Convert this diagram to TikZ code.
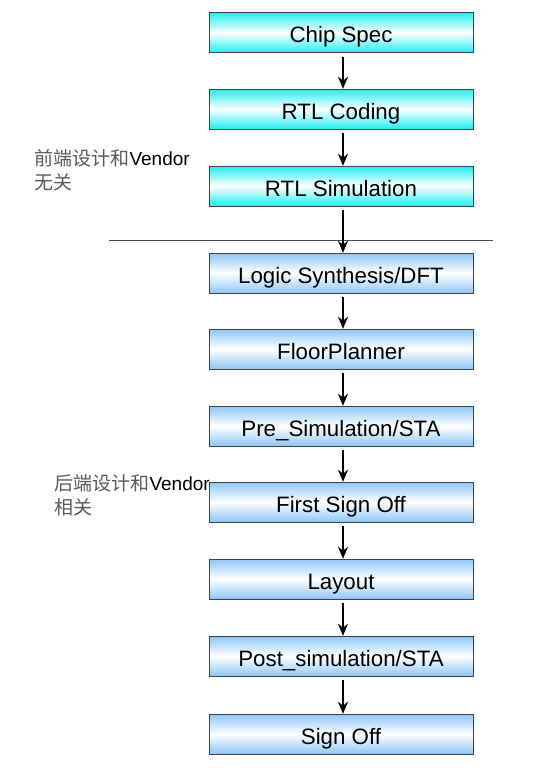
\documentclass[tikz,border=0pt]{standalone}
\usepackage{fontspec}
\usetikzlibrary{arrows.meta}
\setmainfont{Liberation Sans}
\newfontfamily\cjk{Noto Sans CJK SC}
\definecolor{frontcyan}{HTML}{22EEF0}
\definecolor{backblue}{HTML}{8EC6F6}
\tikzset{
  stage/.style={draw=black!75, minimum width=264pt, minimum height=40pt,
    inner sep=0pt, text height=21pt, text depth=0pt, font=\fontsize{22.3}{27}\selectfont},
  frontstage/.style={stage, top color=frontcyan, bottom color=frontcyan, middle color=white},
  backstage/.style={stage, top color=backblue, bottom color=backblue, middle color=white},
  note/.style={align=left, anchor=north west, font=\fontsize{19}{24}\selectfont},
  flow/.style={-{Stealth[length=12pt, width=10pt]}, line width=2.6pt, shorten <=4pt},
}
\newcommand{\zh}[1]{{\cjk\color{black!65}#1}}
\begin{document}
\begin{tikzpicture}[x=1pt, y=-1pt]
    \useasboundingbox (0,0) rectangle (546,768);

    % front end
    \node[frontstage] (spec)   at (341,32.5) {Chip Spec};
    \node[frontstage] (coding) at (341,109)  {RTL Coding};
    \node[frontstage] (rtlsim) at (341,186)  {RTL Simulation};

    \draw[black!70] (109,240) -- (493,240);

    % back end
    \node[backstage] (synth)    at (341,273) {Logic Synthesis/DFT};
    \node[backstage] (floor)    at (341,349) {FloorPlanner};
    \node[backstage] (presim)   at (341,426) {Pre\_Simulation/STA};
    \node[backstage] (firstoff) at (341,502) {First Sign Off};
    \node[backstage] (layout)   at (341,579) {Layout};
    \node[backstage] (postsim)  at (341,656) {Post\_simulation/STA};
    \node[backstage] (signoff)  at (341,734) {Sign Off};

    \foreach \a/\b in {spec/coding, coding/rtlsim, rtlsim/synth, synth/floor,
        floor/presim, presim/firstoff, firstoff/layout, layout/postsim, postsim/signoff}
        \draw[flow] ([xshift=2pt]\a.south) -- ([xshift=2pt]\b.north);

    \node[note] (frontnote) at (31,146) {\zh{前端设计和}Vendor\\\zh{无关}};
    \node[note] (backnote)  at (51,471) {\zh{后端设计和}Vendor\\\zh{相关}};
\end{tikzpicture}
\end{document}
